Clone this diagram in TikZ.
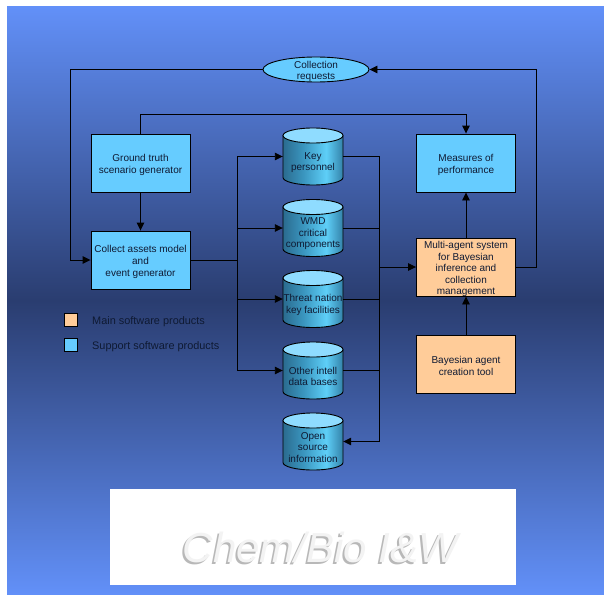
\documentclass[tikz,border=0pt]{standalone}
\usepackage{fontspec}
\setmainfont{Liberation Sans}
\usetikzlibrary{arrows.meta,calc,shapes.geometric}

\definecolor{bgLight}{HTML}{6290F8}
\definecolor{bgDark}{HTML}{2A3D70}
\definecolor{boxCyan}{HTML}{66CCFF}
\definecolor{boxOrange}{HTML}{FFCC99}
\definecolor{cylTop}{HTML}{8FDCFF}
\definecolor{cylDark}{HTML}{2B6B8F}
\definecolor{cylMid}{HTML}{3A96BF}
\definecolor{cylLight}{HTML}{5ECFF8}
\definecolor{cylEdge}{HTML}{3381A8}
\definecolor{ink}{HTML}{0F1A33}
\definecolor{titleFace}{HTML}{F3F3F3}
\definecolor{titleShadow}{HTML}{B8B8B8}

% body of a database drum: dark left, bright band right of centre
\pgfdeclarehorizontalshading{cylbody}{100bp}{color(0bp)=(cylDark); color(25bp)=(cylDark); color(42bp)=(cylMid); color(61bp)=(cylLight); color(75bp)=(cylEdge); color(100bp)=(cylEdge)}

\tikzset{
  box/.style={draw=black, line width=0.9pt, minimum width=99pt, minimum height=58pt, inner sep=0pt},
  mainbox/.style={box, fill=boxOrange},
  supbox/.style={box, fill=boxCyan},
  boxtext/.style={align=center, font=\fontsize{10}{12}\selectfont, text=ink, inner sep=0pt},
  mainboxtext/.style={boxtext, font=\fontsize{10}{11.5}\selectfont},
  dbnode/.style={minimum width=60pt, minimum height=57pt, inner sep=0pt},
  dbtext/.style={align=center, font=\fontsize{10}{11.5}\selectfont, text=ink, inner sep=0pt},
  reqnode/.style={ellipse, draw=black, line width=0.9pt, fill=boxCyan, minimum width=106pt,
    minimum height=25pt, inner sep=0pt},
  reqtext/.style={align=center, font=\fontsize{10}{11}\selectfont, text=ink, inner sep=0pt},
  legbox/.style={draw=black, line width=0.8pt, minimum size=13pt, inner sep=0pt},
  legtext/.style={anchor=west, text=ink, font=\fontsize{10.9}{13}\selectfont, inner sep=0pt},
  flow/.style={draw=black, line width=0.9pt},
  arr/.style={flow, -{Triangle[length=8pt,width=7.5pt]}},
  titletext/.style={anchor=base, inner sep=0pt, font=\fontsize{42}{46}\selectfont\itshape},
}

% database drum: name, centre x, centre y, label
\newcommand\dbdrum[4]{%
  \path[shading=cylbody, draw=black, line width=0.9pt]
    (#2-30,#3-21) -- (#2-30,#3+21)
    arc[start angle=180, end angle=0, x radius=30, y radius=7.5]
    -- (#2+30,#3-21) -- cycle;
  \filldraw[fill=cylTop, draw=black, line width=0.9pt]
    (#2,#3-21) ellipse [x radius=30, y radius=7.5];
  \node[dbnode] (#1) at (#2,#3) {};
  \node[dbtext] (#1-t) at (#2,#3+6) {#4};
}

\begin{document}
\begin{tikzpicture}[x=1pt, y=-1pt]
\useasboundingbox (0,0) rectangle (604,594);

% backdrop
\shade[top color=bgLight, bottom color=bgLight, middle color=bgDark] (7,7) rectangle (604,594);

% process boxes
\node[supbox] (gt)  at (140.5,163) {};
\node[boxtext] (gt-t) at ($(gt)+(0,2)$) {Ground truth\\scenario generator};
\node[supbox] (ca)  at (140.5,260) {};
\node[boxtext] (ca-t) at ($(ca)+(0,2)$) {Collect assets model\\and\\event generator};
\node[supbox] (mop) at (466,163) {};
\node[boxtext] (mop-t) at ($(mop)+(0,2)$) {Measures of\\performance};
\node[mainbox] (mas) at (466,267) {};
\node[mainboxtext] (mas-t) at ($(mas)+(0,2)$) {Multi-agent system\\for Bayesian\\inference and\\collection\\management};
\node[mainbox] (bat) at (466,364) {};
\node[boxtext] (bat-t) at ($(bat)+(0,2)$) {Bayesian agent\\creation tool};
\node[reqnode] (cr)  at (316,69.5) {};
\node[reqtext] (cr-t) at ($(cr)+(0,2)$) {Collection\\requests};

% data sources
\dbdrum{key}{313}{156.5}{Key\\personnel}
\dbdrum{wmd}{313}{228}{WMD\\critical\\components}
\dbdrum{thr}{313}{299}{Threat nation\\key facilities}
\dbdrum{oth}{313}{370.5}{Other intell\\data bases}
\dbdrum{osi}{313}{441.5}{Open\\source\\information}

% legend
\node[legbox, fill=boxOrange] (legmain) at (70.5,319.5) {};
\node[legtext] (legmain-t) at (92,321.5) {Main software products};
\node[legbox, fill=boxCyan] (legsup) at (70.5,345) {};
\node[legtext] (legsup-t) at (92,347) {Support software products};

% connectors
\draw[arr] (gt) -- (ca);
\draw[arr] (gt.north) -- ++(0,-19) -| (mop.north);
\draw[arr] (mas) -- (mop);
\draw[arr] (bat) -- (mas);
\draw[arr] (mas.east) -- ++(20,0) |- (cr.east);
\draw[arr] (cr.west) -| ([xshift=-20pt]ca.west) -- (ca.west);

% fan-out from the asset model to the sources
\coordinate (lbus) at (237,260);
\draw[flow] (ca.east) -- (lbus);
\draw[arr] (lbus) |- (key.west);
\draw[arr] (lbus) |- (wmd.west);
\draw[arr] (lbus) |- (thr.west);
\draw[arr] (lbus) |- (oth.west);

% fan-in from the sources to the agent system
\coordinate (rbus) at (379,267);
\draw[flow] (key.east) -| (rbus);
\draw[flow] (wmd.east) -| (rbus);
\draw[flow] (thr.east) -| (rbus);
\draw[flow] (oth.east) -| (rbus);
\draw[arr] (rbus) -- (mas.west);
\draw[arr] (rbus) |- (osi.east);

% title panel with drop shadow
\fill[white] (110,489) rectangle (516,585);
\node[titletext, text=titleShadow] (title-sh) at (318.5,564) {Chem/Bio I\&W};
\node[titletext, text=titleFace] (title) at (320.5,562) {Chem/Bio I\&W};
\end{tikzpicture}
\end{document}
